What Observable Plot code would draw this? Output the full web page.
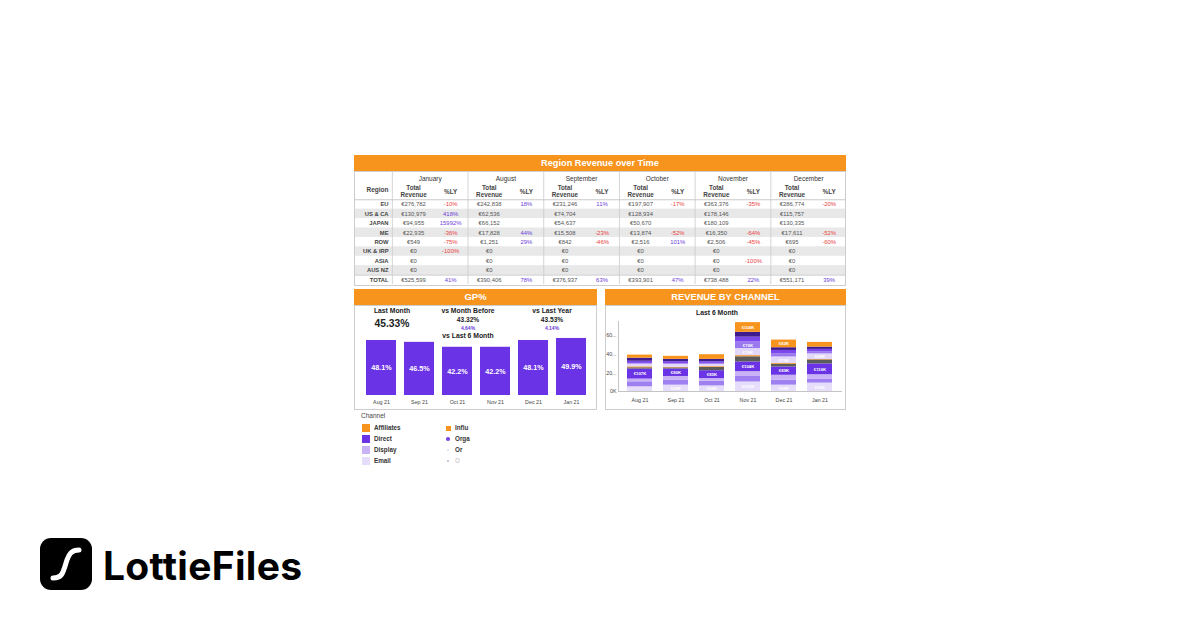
<!DOCTYPE html>
<html><head><meta charset="utf-8">
<script src="https://cdn.jsdelivr.net/npm/d3@7"></script>
<script src="https://cdn.jsdelivr.net/npm/@observablehq/plot@0.6"></script>
<style>
html,body{margin:0;padding:0;background:#fff;}
body{width:1200px;height:630px;position:relative;overflow:hidden;font-family:"Liberation Sans",Arial,sans-serif;}
.abs{position:absolute;}
.hdr{position:absolute;background:#f7941d;color:#fff;font-weight:bold;text-align:center;box-sizing:border-box;}
.box{position:absolute;border:1px solid #cdcdcd;box-sizing:border-box;pointer-events:none;}
.t{position:absolute;white-space:nowrap;transform:translate(-50%,-50%);line-height:1;}
.lg{position:absolute;white-space:nowrap;font-size:6.3px;color:#333;font-weight:bold;line-height:1;transform:translateY(-50%);}
</style></head><body>
<script>
// ---------- DATA ----------
const regions = ["EU","US & CA","JAPAN","ME","ROW","UK & IRP","ASIA","AUS NZ","TOTAL"];
const tableMonths = ["January","August","September","October","November","December"];
const revJan = [276782,130979,94955,22935,549,0,0,0,525599];
const lyJan  = [-10,418,15992,-36,-75,-100,null,null,41];
const revAug = [242838,62536,66152,17828,1251,0,0,0,390406];
const lyAug  = [18,null,null,44,29,null,null,null,78];
const revSep = [231246,74704,54637,15508,842,0,0,0,376937];
const lySep  = [11,null,null,-23,-46,null,null,null,63];
const revOct = [197907,128934,50670,13874,2516,0,0,0,393901];
const lyOct  = [-17,null,null,-52,101,null,null,null,47];
const revNov = [363376,178146,180109,16350,2506,0,0,0,738488];
const lyNov  = [-35,null,null,-64,-45,null,-100,null,22];
const revDec = [286774,115757,130335,17611,695,0,0,0,551171];
const lyDec  = [-20,null,null,-52,-60,null,null,null,39];

const gpMonths = ["Aug 21","Sep 21","Oct 21","Nov 21","Dec 21","Jan 21"];
const gpValues = [48.1,46.5,42.2,42.2,48.1,49.9];
const kpiTitles = ["Last Month","vs Month Before","vs Last Year"];
const kpiValues = ["45.33%","43.32%","43.53%"];
const kpiDeltas = [null,"4.64%","4.14%"];

const chMonths = ["Aug 21","Sep 21","Oct 21","Nov 21","Dec 21","Jan 21"];
// stack order bottom -> top
const channels = ["Email","Paid Search","Display","Direct","Referral","Influencer","Other","Social","Organic","Outreach","Affiliates"];
const chColors = ["#e6ddfb","#9f80f0","#c9b2f6","#6b33e6","#5c5c5c","#f7941d","#e3d8fa","#9a78ef","#7b47ea","#3e1b8e","#f7941d"];
const chEmail      = [50,68,60,102,68,90];
const chPaidSearch = [54,55,50,59,53,40];
const chDisplay    = [29,38,28,52,53,50];
const chDirect     = [107,80,85,104,89,116];
const chReferral   = [14,12,35,55,29,42];
const chInfluencer = [10,5,8,12,8,5];
const chOther      = [29,33,25,76,70,60];
const chSocial     = [8,8,10,70,35,20];
const chOrganic    = [23,20,18,52,35,28];
const chOutreach   = [33,25,25,52,29,25];
const chAffiliates = [33,33,50,104,82,50];
const yTicks = [0,200,400,600];
const yTickLabels = ["0K","20...","40...","60..."];
const legendNames = ["Affiliates","Direct","Display","Email","Influencer","Organic","Other","Outreach"];
const legendLabels = ["Affiliates","Direct","Display","Email","Influ","Orga","Or","O"];

// ---------- helpers ----------
const FONT = "Liberation Sans, Arial, sans-serif";
function place(el, left, top){ el.style.position="absolute"; el.style.left=left+"px"; el.style.top=top+"px"; document.body.appendChild(el); return el; }
function div(cls, left, top, w, h, html, extra){ const d=document.createElement("div"); d.className=cls; d.style.left=left+"px"; d.style.top=top+"px"; if(w!=null) d.style.width=w+"px"; if(h!=null) d.style.height=h+"px"; if(html!=null) d.innerHTML=html; if(extra) Object.assign(d.style, extra); document.body.appendChild(d); return d; }

// ---------- TABLE ----------
div("hdr",354,155,492,16,"Region Revenue over Time",{fontSize:"9.2px",lineHeight:"16px"});
const revByMonth=[revJan,revAug,revSep,revOct,revNov,revDec];
const lyByMonth=[lyJan,lyAug,lySep,lyOct,lyNov,lyDec];
const cells=[];
tableMonths.forEach((m,i)=>regions.forEach((r,k)=>cells.push({col:i,row:k,rev:revByMonth[i][k],ly:lyByMonth[i][k]})));
const fmtEur = v => "€" + d3.format(",")(v);
const rowIdx = regions.map((r,k)=>k);
const tablePlot = Plot.plot({
  width:492, height:115, marginTop:0, marginLeft:0, marginRight:0, marginBottom:2,
  x:{domain:[0,6.5], axis:null},
  y:{domain:[-3,9], reverse:true, axis:null},
  style:{fontFamily:FONT, background:"transparent", overflow:"visible"},
  marks:[
    Plot.rect(rowIdx.filter(k=>k%2===1), {x1:0, x2:6.5, y1:d=>d, y2:d=>d+1, fill:"#e8e8e8"}),
    Plot.ruleY([0,8], {stroke:"#bdbdbd", strokeWidth:0.8}),
    Plot.ruleX(tableMonths.map((m,i)=>i+0.5), {stroke:"#cacaca", strokeWidth:0.8}),
    Plot.text(tableMonths, {x:(d,i)=>i+1, y:-2.19, text:d=>d, fontSize:6.5, fill:"#333"}),
    Plot.text(tableMonths, {x:(d,i)=>i+0.78, y:-1.25, text:()=>"Total", fontSize:6.3, fill:"#444", fontWeight:"bold"}),
    Plot.text(tableMonths, {x:(d,i)=>i+0.78, y:-0.53, text:()=>"Revenue", fontSize:6.3, fill:"#444", fontWeight:"bold"}),
    Plot.text(tableMonths, {x:(d,i)=>i+1.27, y:-0.82, text:()=>"%LY", fontSize:6.3, fill:"#444", fontWeight:"bold"}),
    Plot.text(["Region"], {x:0.45, y:-1.06, text:d=>d, textAnchor:"end", fontSize:6.5, fill:"#444", fontWeight:"bold"}),
    Plot.text(regions, {x:0.45, y:(d,k)=>k+0.5, text:d=>d, textAnchor:"end", fontSize:5.8, fill:"#444", fontWeight:"bold"}),
    Plot.text(cells, {x:d=>d.col+0.78, y:d=>d.row+0.5, text:d=>fmtEur(d.rev), fontSize:5.9, fill:"#555"}),
    Plot.text(cells.filter(d=>d.ly!=null), {x:d=>d.col+1.27, y:d=>d.row+0.5, text:d=>d.ly+"%", fontSize:5.9, fill:d=>d.ly<0?"#e8413c":"#6a3bd8"})
  ]
});
place(tablePlot,354,171);
div("box",354,171,492,115);

// ---------- GP% ----------
div("hdr",354,289,243,16,"GP%",{fontSize:"9.5px",lineHeight:"16px"});
div("box",354,305,243,105);
const kpiX=[392,468,552];
kpiTitles.forEach((t,i)=>div("t",kpiX[i],311,null,null,t,{fontSize:"6.8px",fontWeight:"bold",color:"#222"}));
div("t",kpiX[0],323.5,null,null,kpiValues[0],{fontSize:"10.3px",fontWeight:"bold",color:"#222"});
[1,2].forEach(i=>{
  div("t",kpiX[i],320,null,null,kpiValues[i],{fontSize:"6.6px",fontWeight:"bold",color:"#222"});
  div("t",kpiX[i],328,null,null,kpiDeltas[i],{fontSize:"5px",fontWeight:"bold",color:"#6a3bd8"});
});
div("t",468,336,null,null,"vs Last 6 Month",{fontSize:"6.8px",fontWeight:"bold",color:"#222"});
const gpData = gpMonths.map((m,i)=>({month:m,value:gpValues[i]}));
const gpPlot = Plot.plot({
  width:238, height:80, marginLeft:3, marginRight:3.4, marginTop:7.85, marginBottom:15,
  x:{domain:gpMonths, paddingInner:0.2, paddingOuter:0.1, axis:null},
  y:{domain:[0,50], axis:null},
  style:{fontFamily:FONT, background:"transparent"},
  marks:[
    Plot.barY(gpData,{x:"month", y:"value", fill:"#6b33e6"}),
    Plot.text(gpData,{x:"month", y:d=>d.value/2, text:d=>d.value.toFixed(1)+"%", fill:"white", fontWeight:"bold", fontSize:7.2}),
    Plot.axisX({tickSize:0, tickPadding:4.5, fontSize:5.3, fill:"#444", label:null})
  ]
});
place(gpPlot,357,330);

// ---------- REVENUE BY CHANNEL ----------
div("hdr",605,289,241,16,"REVENUE BY CHANNEL",{fontSize:"9.3px",lineHeight:"16px"});
div("box",605,305,241,105);
div("t",717,312.5,null,null,"Last 6 Month",{fontSize:"6.8px",fontWeight:"bold",color:"#222"});
const chSeries=[chEmail,chPaidSearch,chDisplay,chDirect,chReferral,chInfluencer,chOther,chSocial,chOrganic,chOutreach,chAffiliates];
const chData=[];
chMonths.forEach((m,i)=>channels.forEach((c,j)=>chData.push({month:m,channel:c,value:chSeries[j][i]})));
const chPlot = Plot.plot({
  width:240, height:95, marginLeft:13, marginRight:3, marginTop:6, marginBottom:19,
  x:{domain:chMonths, paddingInner:0.3, paddingOuter:0.18, axis:null},
  y:{domain:[0,750], axis:null},
  color:{domain:channels, range:chColors},
  style:{fontFamily:FONT, background:"transparent"},
  marks:[
    Plot.frame({anchor:"left", stroke:"#c4c4c4"}),
    Plot.ruleY([0],{stroke:"#c4c4c4"}),
    Plot.barY(chData,{x:"month", y:"value", fill:"channel", z:"channel"}),
    Plot.text(chData, Plot.stackY({x:"month", y:"value", z:"channel", text:d=>d.value>=60?"€"+d.value+"K":"", fill:"white", fontSize:4.3, fontWeight:"bold"})),
    Plot.axisY(yTicks,{tickSize:0, tickPadding:2, tickFormat:d=>yTickLabels[yTicks.indexOf(d)], fontSize:5.3, fill:"#444", label:null}),
    Plot.axisX({tickSize:0, tickPadding:7, fontSize:5.3, fill:"#444", label:null})
  ]
});
place(chPlot,605,315);

// ---------- LEGEND ----------
div("lg",361,416,null,null,"Channel",{fontWeight:"normal",color:"#444",fontSize:"6.5px"});
const colorOf = n => chColors[channels.indexOf(n)];
const legRowY=[428,439,450,461];
legendNames.forEach((n,i)=>{
  const col = Math.floor(i/4), r=i%4;
  const y = legRowY[r];
  if(col===0){
    div("abs",362,y-4,8,8,null,{background:colorOf(n)});
    div("lg",374,y,null,null,legendLabels[i]);
  } else {
    const sz=[5,3.5,2,2][r];
    div("abs",448-sz/2,y-sz/2,sz,sz,null,{background:colorOf(n),borderRadius:r===0?"0":"50%",opacity:r===3?0.35:1});
    div("lg",455,y,null,null,legendLabels[i],{opacity:r===3?0.25:1});
  }
});

// ---------- LOGO ----------
const logo = document.createElementNS("http://www.w3.org/2000/svg","svg");
logo.setAttribute("width","52"); logo.setAttribute("height","52");
logo.innerHTML='<rect x="0" y="0" width="52" height="52" rx="11" fill="#000"/><path d="M13 40 C22 40 23 35 26 25 C29 15 32 12 39 12" fill="none" stroke="#fff" stroke-width="5" stroke-linecap="round"/>';
place(logo,40,538);
div("abs",103,548,null,null,"LottieFiles",{fontFamily:"Inter, sans-serif",fontWeight:"700",fontSize:"39px",lineHeight:"36px",color:"#000",letterSpacing:"0.3px"});
</script>
</body></html>
